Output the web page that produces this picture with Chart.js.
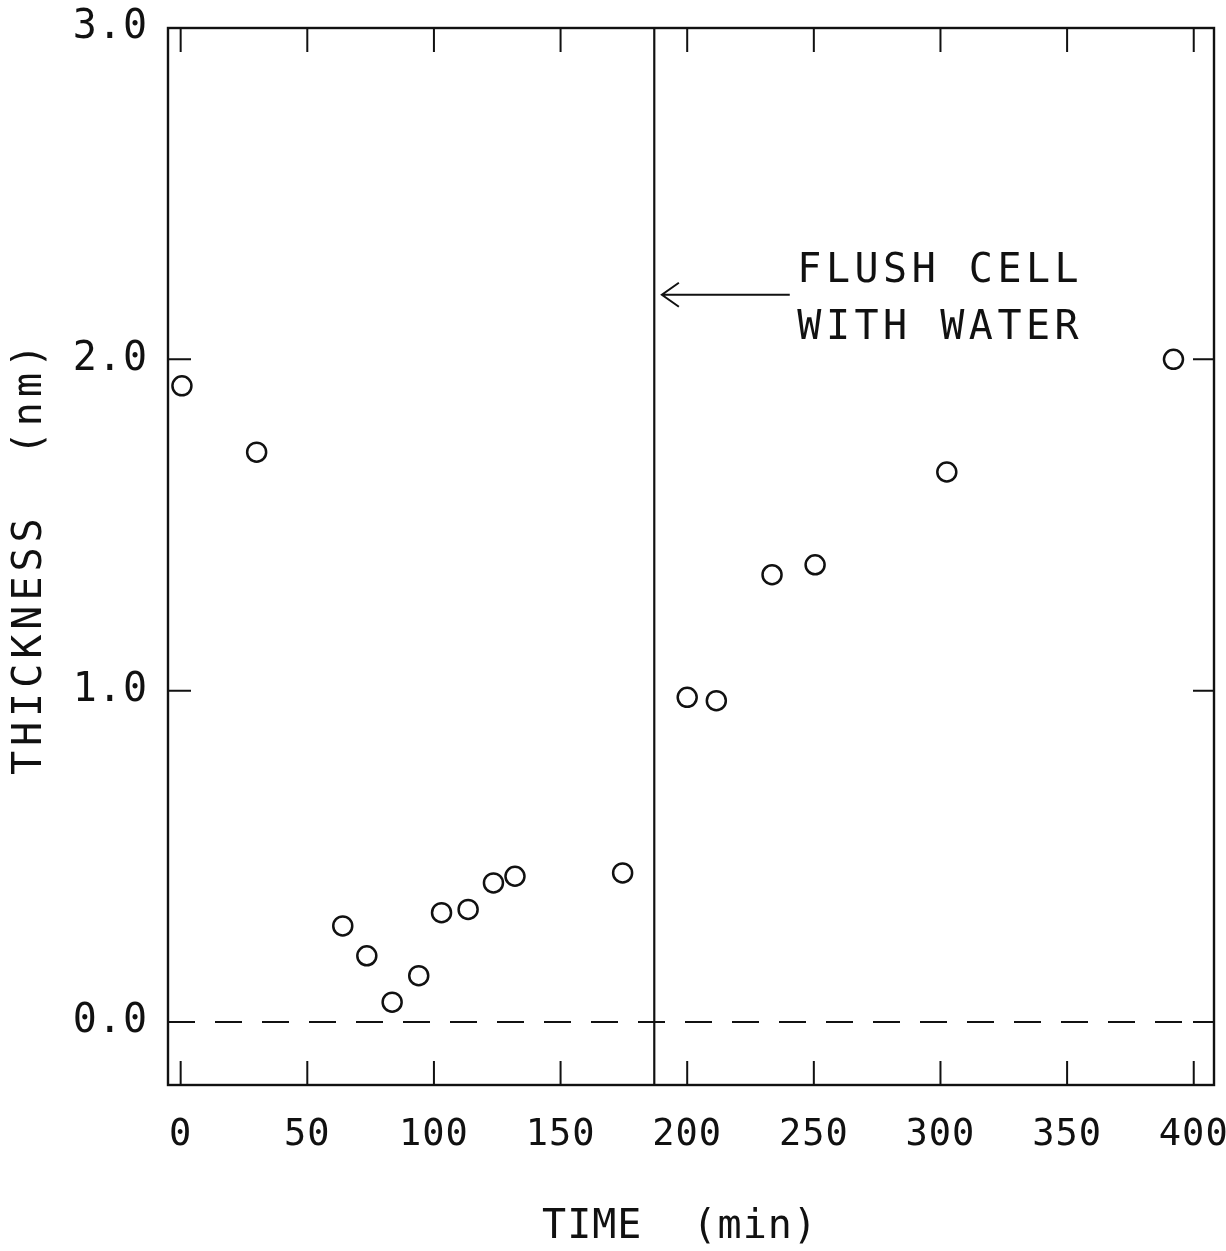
<!DOCTYPE html>
<html>
<head>
<meta charset="utf-8">
<title>Thickness vs time</title>
<script src="https://cdn.jsdelivr.net/npm/chart.js@4.4.1/dist/chart.umd.min.js"></script>
<style>
  html, body { margin: 0; padding: 0; background: #fff; }
  canvas { display: block; }
</style>
</head>
<body>
<canvas id="chart" width="1226" height="1251"></canvas>
<script>
// measured points (time in min, thickness in nm)
const times = [0.5, 30, 64, 73.5, 83.5, 94, 103, 113.5, 123.5, 132, 174.5, 200, 211.5, 233.5, 250.5, 302.5, 392];
const thickness = [1.92, 1.72, 0.29, 0.20, 0.06, 0.14, 0.33, 0.34, 0.42, 0.44, 0.45, 0.98, 0.97, 1.35, 1.38, 1.66, 2.00];

const xTicks = [0, 50, 100, 150, 200, 250, 300, 350, 400];
const yTicks = [0, 1, 2, 3];
const xRange = [-5, 408];
const yRange = [-0.19, 3.0];

const xTitle = 'TIME  (min)';
const yTitle = 'THICKNESS  (nm)';

// water flush marker and note
const flushTime = 187;
const arrowX = [190, 240.5];
const arrowY = 2.195;
const noteX = 243.5;
const noteLines = ['FLUSH CELL', 'WITH WATER'];
const noteY = [2.264, 2.092];

const INK = '#111';
const FONT = '"DejaVu Sans Mono", "Liberation Mono", monospace';

const spacing = {
  id: 'spacing',
  beforeUpdate(chart) { chart.ctx.letterSpacing = '1px'; },
  beforeDraw(chart) { chart.ctx.letterSpacing = '1px'; }
};

const frame = {
  id: 'frame',
  afterDraw(chart) {
    const { ctx, chartArea: a, scales: { x, y } } = chart;
    ctx.save();
    ctx.strokeStyle = INK;
    ctx.lineWidth = 2.4;
    ctx.strokeRect(a.left, a.top, a.right - a.left, a.bottom - a.top);

    // inward ticks
    ctx.lineWidth = 2;
    ctx.beginPath();
    xTicks.forEach(v => {
      const px = x.getPixelForValue(v);
      ctx.moveTo(px, a.bottom); ctx.lineTo(px, a.bottom - 24);
      ctx.moveTo(px, a.top); ctx.lineTo(px, a.top + 24);
    });
    yTicks.forEach(v => {
      const py = y.getPixelForValue(v);
      ctx.moveTo(a.left, py); ctx.lineTo(a.left + 23, py);
      ctx.moveTo(a.right, py); ctx.lineTo(a.right - 21, py);
    });
    ctx.stroke();

    // arrow
    const ay = y.getPixelForValue(arrowY);
    const tip = x.getPixelForValue(arrowX[0]);
    const tail = x.getPixelForValue(arrowX[1]);
    ctx.lineWidth = 2;
    ctx.beginPath();
    ctx.moveTo(tail, ay); ctx.lineTo(tip, ay);
    ctx.moveTo(tip + 17, ay - 12); ctx.lineTo(tip, ay); ctx.lineTo(tip + 17, ay + 12);
    ctx.stroke();

    // note text
    ctx.fillStyle = INK;
    ctx.font = '40px ' + FONT;
    ctx.letterSpacing = '4.5px';
    ctx.textAlign = 'left';
    ctx.textBaseline = 'middle';
    noteLines.forEach((t, i) => ctx.fillText(t, x.getPixelForValue(noteX), y.getPixelForValue(noteY[i])));

    // axis titles
    ctx.textAlign = 'center';
    ctx.letterSpacing = '1px';
    ctx.fillText(xTitle, 680, 1228);
    ctx.save();
    ctx.translate(31, 557);
    ctx.rotate(-Math.PI / 2);
    ctx.letterSpacing = '5px';
    ctx.fillText(yTitle, 0, 0);
    ctx.restore();
    ctx.restore();
  }
};

new Chart(document.getElementById('chart'), {
  type: 'scatter',
  data: {
    datasets: [
      {
        data: times.map((t, i) => ({ x: t, y: thickness[i] })),
        pointStyle: 'circle',
        pointRadius: 9.5,
        pointBorderWidth: 2.5,
        pointBackgroundColor: 'rgba(0,0,0,0)',
        pointBorderColor: INK,
        showLine: false
      },
      {
        type: 'line',
        data: [{ x: xRange[0], y: 0 }, { x: xRange[1], y: 0 }],
        borderColor: INK,
        borderWidth: 2,
        borderDash: [27, 20],
        pointRadius: 0
      },
      {
        type: 'line',
        data: [{ x: flushTime, y: yRange[0] }, { x: flushTime, y: yRange[1] }],
        borderColor: INK,
        borderWidth: 2.2,
        pointRadius: 0
      }
    ]
  },
  options: {
    responsive: false,
    animation: false,
    layout: { padding: { left: 0, right: 11, top: 28, bottom: 0 } },
    plugins: { legend: { display: false }, tooltip: { enabled: false } },
    scales: {
      x: {
        type: 'linear',
        min: xRange[0], max: xRange[1],
        grid: { display: false },
        border: { display: false },
        afterBuildTicks: s => { s.ticks = xTicks.map(v => ({ value: v })); },
        afterFit: s => { s.height = 166; s.paddingLeft = 0; s.paddingRight = 0; },
        ticks: {
          color: INK,
          padding: 20,
          maxRotation: 0,
          font: { family: FONT, size: 37 }
        }
      },
      y: {
        type: 'linear',
        min: yRange[0], max: yRange[1],
        grid: { display: false },
        border: { display: false },
        afterBuildTicks: s => { s.ticks = yTicks.map(v => ({ value: v })); },
        afterFit: s => { s.width = 168; s.paddingTop = 0; s.paddingBottom = 0; },
        ticks: {
          color: INK,
          padding: 12,
          callback: v => v.toFixed(1),
          font: { family: FONT, size: 40 }
        }
      }
    }
  },
  plugins: [spacing, frame]
});
</script>
</body>
</html>
